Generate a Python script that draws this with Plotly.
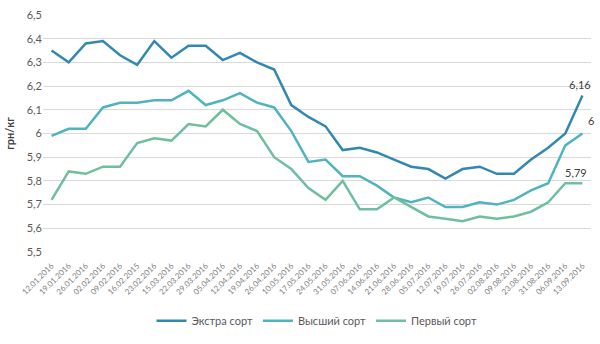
import plotly.graph_objects as go

dates = ["12.01.2016", "19.01.2016", "26.01.2016", "02.02.2016", "09.02.2016", "16.02.2015",
         "23.02.2016", "15.03.2016", "22.03.2016", "29.03.2016", "05.04.2016", "12.04.2016",
         "19.04.2016", "26.04.2016", "10.05.2016", "17.05.2016", "24.05.2016", "31.05.2016",
         "07.06.2016", "14.06.2016", "21.06.2016", "28.06.2016", "05.07.2016", "12.07.2016",
         "19.07.2016", "26.07.2016", "02.08.2016", "09.08.2016", "23.08.2016", "31.08.2016",
         "06.09.2016", "13.09.2016"]

extra = [6.35, 6.30, 6.38, 6.39, 6.33, 6.29, 6.39, 6.32, 6.37, 6.37, 6.31, 6.34,
         6.30, 6.27, 6.12, 6.07, 6.03, 5.93, 5.94, 5.92, 5.89, 5.86, 5.85, 5.81,
         5.85, 5.86, 5.83, 5.83, 5.89, 5.94, 6.00, 6.16]

vysshiy = [5.99, 6.02, 6.02, 6.11, 6.13, 6.13, 6.14, 6.14, 6.18, 6.12, 6.14, 6.17,
           6.13, 6.11, 6.01, 5.88, 5.89, 5.82, 5.82, 5.78, 5.73, 5.71, 5.73, 5.69,
           5.69, 5.71, 5.70, 5.72, 5.76, 5.79, 5.95, 6.00]

perviy = [5.72, 5.84, 5.83, 5.86, 5.86, 5.96, 5.98, 5.97, 6.04, 6.03, 6.10, 6.04,
          6.01, 5.90, 5.85, 5.77, 5.72, 5.80, 5.68, 5.68, 5.73, 5.69, 5.65, 5.64,
          5.63, 5.65, 5.64, 5.65, 5.67, 5.71, 5.79, 5.79]

series_names = ["Экстра сорт", "Высший сорт", "Первый сорт"]
colors = ["#3288b1", "#4fb4bf", "#6fbf9e"]

fig = go.Figure()
for name, vals, col in zip(series_names, [extra, vysshiy, perviy], colors):
    fig.add_trace(go.Scatter(x=dates, y=vals, mode="lines", name=name,
                             line=dict(color=col, width=2.5)))

def fmt(v):
    s = ("%.2f" % v).rstrip("0").rstrip(".")
    return s.replace(".", ",")

# end labels
fig.add_annotation(x=dates[-1], y=extra[-1], text=fmt(extra[-1]), showarrow=False,
                   yshift=11, xshift=-2, font=dict(size=11, color="#404040"))
fig.add_annotation(x=dates[-1], y=vysshiy[-1], text=fmt(vysshiy[-1]), showarrow=False,
                   yshift=13, xshift=9, font=dict(size=11, color="#404040"))
fig.add_annotation(x=dates[-1], y=perviy[-1], text=fmt(perviy[-1]), showarrow=False,
                   yshift=11, xshift=-6, font=dict(size=11, color="#404040"))

fig.update_layout(
    width=600, height=344,
    margin=dict(l=43, r=9, t=15, b=89),
    paper_bgcolor="white", plot_bgcolor="white",
    separators=", ",
    font=dict(family="Lato, Open Sans, sans-serif", color="#595959"),
    showlegend=True,
    legend=dict(orientation="h", x=0.5, xanchor="center", y=-0.29, yanchor="middle",
                font=dict(size=11, color="#595959"), itemwidth=30, tracegroupgap=0),
    xaxis=dict(type="category", tickangle=-45, tickfont=dict(size=8, color="#7f7f7f"),
               range=[-0.5, len(dates) - 0.5],
               showgrid=False, showline=False, ticks="outside", ticklen=5,
               tickcolor="rgba(0,0,0,0)", automargin=False),
    yaxis=dict(range=[5.5, 6.5], dtick=0.1, tick0=5.5, showgrid=True, gridcolor="#d9d9d9",
               gridwidth=1, zeroline=False, showline=False,
               tickfont=dict(size=11, color="#595959"), automargin=False,
               title=dict(text="<b>грн/кг</b>", font=dict(size=11, color="#404040"), standoff=9)),
)

fig.write_html("out.html")
